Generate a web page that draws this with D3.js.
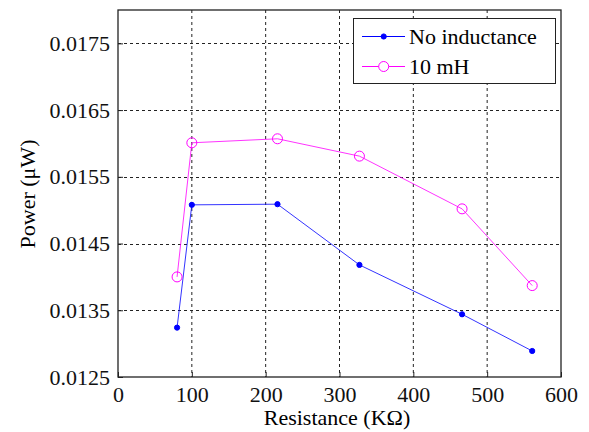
<!DOCTYPE html>
<html><head><meta charset="utf-8">
<script src="https://cdn.jsdelivr.net/npm/d3@7"></script>
<style>body{margin:0;background:#fff}svg{display:block}</style>
</head><body>
<svg id="c" width="589" height="432"></svg>
<script>
const resistance = [80, 100, 216, 327, 466, 561];
const noInductance = [0.01324, 0.01508, 0.01509, 0.01418, 0.01344, 0.01289];
const tenMH = [0.01400, 0.01601, 0.01607, 0.01581, 0.01502, 0.01387];
const xTicks = [0, 100, 200, 300, 400, 500, 600];
const yTicks = [0.0125, 0.0135, 0.0145, 0.0155, 0.0165, 0.0175];
const seriesNames = ["No inductance", "10 mH"];
const seriesColors = ["#0000ff", "#ff00ff"];
const xTitle = "Resistance (K\u03A9)";
const yTitle = "Power (\u03BCW)";

const FONT = "Liberation Serif";
const svg = d3.select("#c");
const L = 118, R = 561, T = 10, B = 377;
const x = d3.scaleLinear().domain([0, 600]).range([L, R]);
const y = d3.scaleLinear().domain([0.0125, 0.018]).range([B, T]);
const fs = 22;

function txt(sel) {
  return sel.attr("font-family", FONT).attr("font-size", fs);
}

// grid
const g = svg.append("g");
g.selectAll(".gx").data(xTicks.filter(d => d > 0 && d < 600)).join("line")
  .attr("x1", d => x(d)).attr("x2", d => x(d)).attr("y1", T).attr("y2", B)
  .attr("stroke", "#222").attr("stroke-dasharray", "3,3").attr("stroke-width", 1);
g.selectAll(".gy").data(yTicks.filter(d => d > 0.0125)).join("line")
  .attr("y1", d => Math.round(y(d)) + 0.5).attr("y2", d => Math.round(y(d)) + 0.5).attr("x1", L).attr("x2", R)
  .attr("stroke", "#222").attr("stroke-dasharray", "3,3").attr("stroke-width", 1);

// axes
const xAxis = d3.axisBottom(x).tickValues(xTicks).tickFormat(d3.format("d")).tickSizeInner(-5).tickSizeOuter(0).tickPadding(9);
const yAxis = d3.axisLeft(y).tickValues(yTicks).tickFormat(d3.format(".4f")).tickSizeInner(-5).tickSizeOuter(0).tickPadding(8);
const ax = svg.append("g").attr("transform", `translate(0,${B})`).call(xAxis);
const ay = svg.append("g").attr("transform", `translate(${L},0)`).call(yAxis);
[ax, ay].forEach(a => {
  a.attr("font-family", FONT).attr("font-size", fs);
  a.select(".domain").remove();
  a.selectAll("line").attr("stroke", "#222");
  a.selectAll("text").attr("fill", "#111").attr("font-family", FONT);
});
ax.selectAll("text").attr("dy", "0.71em");
svg.append("rect").attr("x", L).attr("y", T).attr("width", R - L).attr("height", B - T)
  .attr("fill", "none").attr("stroke", "#222").attr("stroke-width", 1.3);

// series
const line = d3.line().x((d, i) => x(resistance[i])).y(d => y(d));
[noInductance, tenMH].forEach((vals, k) => {
  svg.append("path").datum(vals).attr("d", line).attr("fill", "none")
    .attr("stroke", seriesColors[k]).attr("stroke-width", 1).attr("opacity", 0.8);
  svg.selectAll(".m" + k).data(vals).join("circle")
    .attr("cx", (d, i) => x(resistance[i])).attr("cy", d => y(d))
    .attr("r", k === 0 ? 2.6 : 5)
    .attr("fill", k === 0 ? seriesColors[k] : "none")
    .attr("stroke", seriesColors[k]).attr("stroke-width", 1);
});

// labels
txt(svg.append("text")).attr("x", 337).attr("y", 425).attr("text-anchor", "middle").text(xTitle);
txt(svg.append("text")).attr("transform", "translate(35,194) rotate(-90)").attr("text-anchor", "middle").text(yTitle);

// legend
const lg = svg.append("g");
lg.append("rect").attr("x", 353.5).attr("y", 18.5).attr("width", 202).attr("height", 65)
  .attr("fill", "#fff").attr("stroke", "#222").attr("stroke-width", 1);
seriesNames.forEach((n, k) => {
  const yy = k === 0 ? 36.5 : 66.5;
  lg.append("line").attr("x1", 362).attr("x2", 405).attr("y1", yy).attr("y2", yy)
    .attr("stroke", seriesColors[k]).attr("stroke-width", 1);
  lg.append("circle").attr("cx", 383.7).attr("cy", yy).attr("r", k === 0 ? 2.6 : 5)
    .attr("fill", k === 0 ? seriesColors[k] : "#fff").attr("stroke", seriesColors[k]);
  txt(lg.append("text")).attr("x", 409).attr("y", yy).attr("dy", "0.35em").text(n);
});
</script>
</body></html>
